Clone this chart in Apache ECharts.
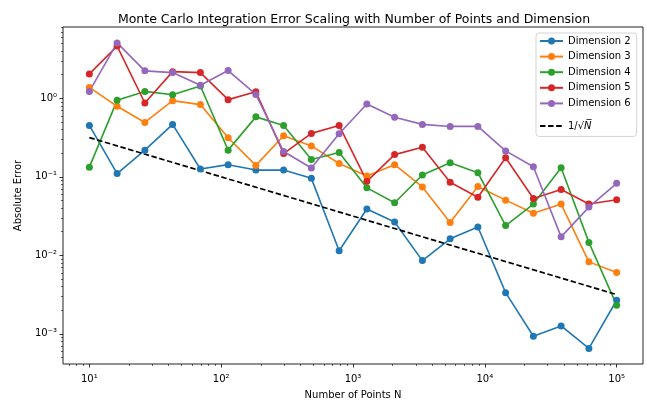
<!DOCTYPE html>
<html>
<head>
<meta charset="utf-8">
<script src="https://cdn.jsdelivr.net/npm/echarts@6/dist/echarts.min.js"></script>
<style>
html,body{margin:0;padding:0;background:#fff;}
#chart{width:647px;height:405px;}
</style>
</head>
<body>
<div id="chart"></div>
<script>
// Number of points N (log-spaced, 20 values)
const nPoints = [10, 16.24, 26.37, 42.81, 69.52, 112.9, 183.3, 297.6, 483.3, 784.8,
                 1274, 2069, 3360, 5456, 8859, 14384, 23357, 37927, 61585, 100000];

// Absolute error per dimension
const dim2 = [0.452, 0.110, 0.219, 0.466, 0.126, 0.143, 0.122, 0.122, 0.0957, 0.01146,
              0.0389, 0.0266, 0.00857, 0.01625, 0.0230, 0.00335, 0.000933, 0.00126, 0.000652, 0.00268];
const dim3 = [1.377, 0.792, 0.493, 0.935, 0.833, 0.315, 0.140, 0.334, 0.248, 0.148,
              0.1026, 0.143, 0.0745, 0.0262, 0.0752, 0.0505, 0.0343, 0.0450, 0.00826, 0.00605];
const dim4 = [0.133, 0.944, 1.226, 1.113, 1.438, 0.219, 0.581, 0.452, 0.166, 0.204,
              0.0724, 0.0468, 0.1057, 0.151, 0.113, 0.0240, 0.0450, 0.1306, 0.01463, 0.00232];
const dim5 = [2.05, 4.63, 0.873, 2.19, 2.13, 0.963, 1.215, 0.198, 0.358, 0.452,
              0.0877, 0.192, 0.239, 0.0852, 0.0551, 0.175, 0.0531, 0.0689, 0.0450, 0.0511];
const dim6 = [1.226, 5.09, 2.24, 2.13, 1.472, 2.26, 1.123, 0.210, 0.1295, 0.354,
              0.847, 0.575, 0.466, 0.439, 0.439, 0.214, 0.1345, 0.0172, 0.0412, 0.0828];

// Reference 1/sqrt(N) line (end points)
const refN = [10, 100000];
const refErr = [0.3162, 0.003162];

const seriesNames = ['Dimension 2', 'Dimension 3', 'Dimension 4', 'Dimension 5', 'Dimension 6'];
const refName = '1/√N';
const colors = ['#1f77b4', '#ff7f0e', '#2ca02c', '#d62728', '#9467bd'];

// Axis tick labels
const xMajorTicks = [10, 100, 1000, 10000, 100000];
const yMajorTicks = [0.001, 0.01, 0.1, 1];

const X_MIN = Math.pow(10, 0.8), X_MAX = Math.pow(10, 5.2);
const Y_MIN = Math.pow(10, -3.384), Y_MAX = Math.pow(10, 0.909);

function minorTicks(lo, hi) {
  const out = [];
  for (let e = -5; e <= 6; e++) {
    for (let m = 2; m <= 9; m++) {
      const v = m * Math.pow(10, e);
      if (v > lo && v < hi) out.push(v);
    }
  }
  return out;
}
const xMinor = minorTicks(X_MIN, X_MAX);
const yMinor = minorTicks(Y_MIN, Y_MAX);

const supMap = {'-': '⁻', '0': '⁰', '1': '¹', '2': '²', '3': '³', '4': '⁴', '5': '⁵', '6': '⁶', '7': '⁷', '8': '⁸', '9': '⁹'};
function powLabel(v) {
  const e = Math.round(Math.log10(v));
  return '10' + String(e).split('').map(c => supMap[c]).join('');
}

const FONT = 'DejaVu Sans';
const dims = [dim2, dim3, dim4, dim5, dim6];

const series = dims.map((arr, i) => ({
  name: seriesNames[i],
  type: 'line',
  xAxisIndex: 0, yAxisIndex: 0,
  data: nPoints.map((n, j) => [n, arr[j]]),
  symbol: 'circle',
  symbolSize: 7,
  lineStyle: {width: 1.6, color: colors[i]},
  itemStyle: {color: colors[i]},
  color: colors[i],
  emphasis: {disabled: true},
  animation: false
}));
series.push({
  name: refName,
  type: 'line',
  xAxisIndex: 0, yAxisIndex: 0,
  data: refN.map((n, j) => [n, refErr[j]]),
  symbol: 'none',
  lineStyle: {width: 1.7, color: '#000', type: [5.5, 2.6]},
  itemStyle: {color: '#000'},
  color: '#000',
  emphasis: {disabled: true},
  animation: false
});

const axisCommonX = {
  type: 'log', logBase: 10, min: X_MIN, max: X_MAX, gridIndex: 0,
  splitLine: {show: false}, axisLine: {show: false}
};
const axisCommonY = {
  type: 'log', logBase: 10, min: Y_MIN, max: Y_MAX, gridIndex: 0,
  splitLine: {show: false}, axisLine: {show: false}
};

const option = {
  backgroundColor: '#fff',
  animation: false,
  color: colors,
  textStyle: {fontFamily: FONT},
  title: {
    text: 'Monte Carlo Integration Error Scaling with Number of Points and Dimension',
    left: 349, top: 8, textAlign: 'center',
    textStyle: {fontFamily: FONT, fontSize: 12.5, fontWeight: 'normal', color: '#000'}
  },
  grid: {left: 63, right: 4, top: 27, bottom: 38, show: true, borderColor: '#222', borderWidth: 1, backgroundColor: 'transparent'},
  legend: [{
    data: seriesNames,
    orient: 'vertical',
    left: 536, top: 33,
    padding: [2, 6, 27, 3],
    itemWidth: 23, itemHeight: 8.75, itemGap: 3.6,
    backgroundColor: '#fff',
    borderColor: '#d3d3d3', borderWidth: 1, borderRadius: 3,
    textStyle: {fontFamily: FONT, fontSize: 10, color: '#000', lineHeight: 12},
    selectedMode: false
  }, {
    data: [refName],
    orient: 'vertical',
    left: 536, top: 119,
    padding: [0, 6, 0, 3],
    itemWidth: 23, itemHeight: 14,
    itemStyle: {opacity: 0},
    formatter: () => '1/√{i|N\u0305}',
    textStyle: {fontFamily: FONT, fontSize: 10, color: '#000', lineHeight: 14,
      rich: {i: {fontStyle: 'italic', fontFamily: FONT, fontSize: 10, color: '#000'}}},
    selectedMode: false
  }],
  xAxis: [Object.assign({}, axisCommonX, {
    position: 'bottom',
    name: 'Number of Points N', nameLocation: 'middle', nameGap: 26,
    nameTextStyle: {fontFamily: FONT, fontSize: 10, color: '#000'},
    axisTick: {show: true, length: 3.5, lineStyle: {color: '#000', width: 0.8}, customValues: xMajorTicks},
    axisLabel: {fontFamily: FONT, fontSize: 10, color: '#000', margin: 10, customValues: xMajorTicks, formatter: powLabel}
  }), Object.assign({}, axisCommonX, {
    position: 'bottom',
    axisTick: {show: true, length: 2, lineStyle: {color: '#000', width: 0.6}, customValues: xMinor},
    axisLabel: {show: false}
  })],
  yAxis: [Object.assign({}, axisCommonY, {
    position: 'left',
    name: 'Absolute Error', nameLocation: 'middle', nameGap: 40,
    nameTextStyle: {fontFamily: FONT, fontSize: 10, color: '#000'},
    axisTick: {show: true, length: 3.5, lineStyle: {color: '#000', width: 0.8}, customValues: yMajorTicks},
    axisLabel: {fontFamily: FONT, fontSize: 10, color: '#000', margin: 6, customValues: yMajorTicks, formatter: powLabel}
  }), Object.assign({}, axisCommonY, {
    position: 'left',
    axisTick: {show: true, length: 2, lineStyle: {color: '#000', width: 0.6}, customValues: yMinor},
    axisLabel: {show: false}
  })],
  series: series
};

const chart = echarts.init(document.getElementById('chart'), null, {renderer: 'canvas'});
chart.setOption(option);
</script>
</body>
</html>
